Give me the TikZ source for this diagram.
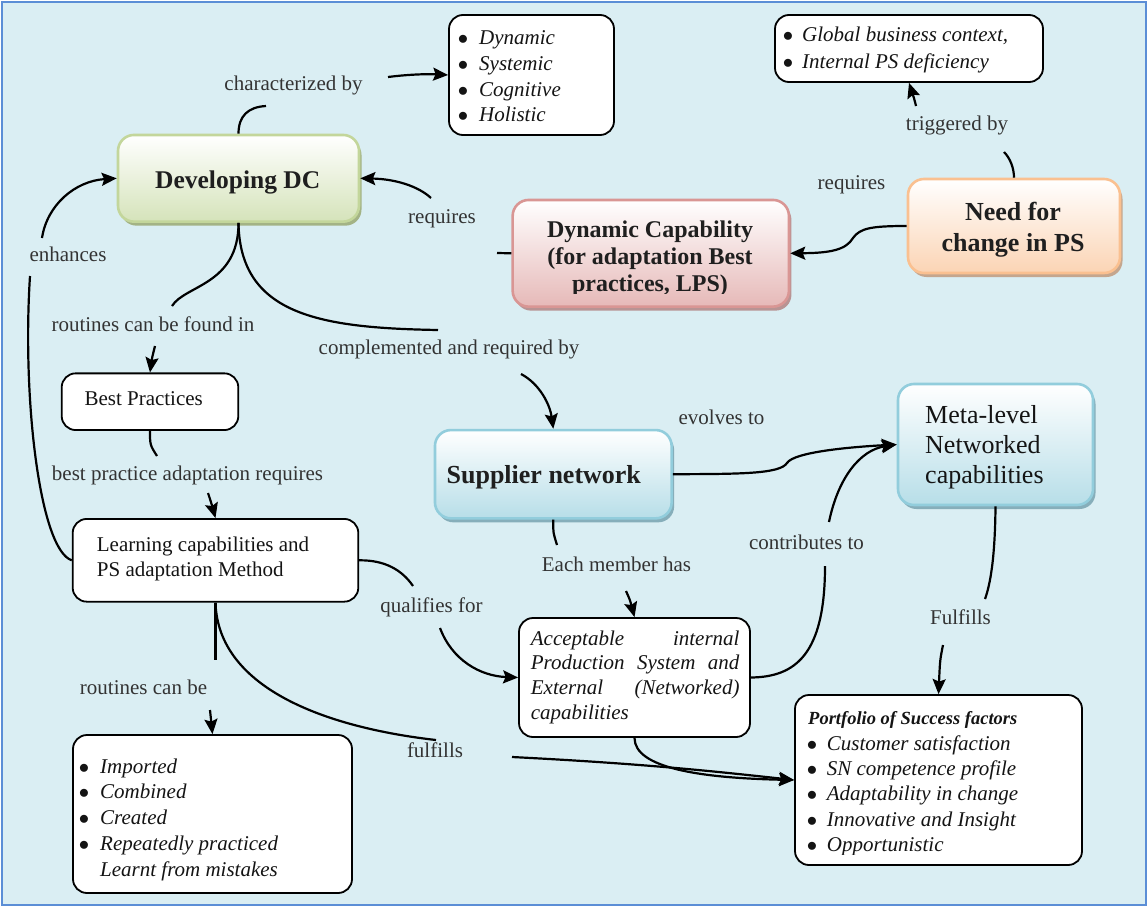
\documentclass[tikz,border=0pt]{standalone}
\usepackage{fontspec}
\setmainfont{Liberation Serif}
\usetikzlibrary{arrows.meta,shadows,calc}

\definecolor{bgblue}{HTML}{DAEEF3}
\definecolor{frameblue}{HTML}{5B8ED6}
\definecolor{grnfill}{HTML}{D5E3BA}
\definecolor{grnline}{HTML}{C3D69B}
\definecolor{grnshadow}{HTML}{A3B385}
\definecolor{pnkfill}{HTML}{E6B9B8}
\definecolor{pnkline}{HTML}{D99694}
\definecolor{pnkshadow}{HTML}{B89494}
\definecolor{orgfill}{HTML}{FBD4B4}
\definecolor{orgline}{HTML}{FAC090}
\definecolor{orgshadow}{HTML}{C4A68E}
\definecolor{blufill}{HTML}{B7DEE8}
\definecolor{bluline}{HTML}{92CDDC}
\definecolor{blushadow}{HTML}{86AEBA}

\newcommand\listbullet[1]{\makebox[#1][l]{$\bullet$}}

\begin{document}
\begin{tikzpicture}[x=1pt,y=-1pt,
  lbl/.style={font=\fontsize{21}{25}\selectfont, text=black!80, inner sep=0pt, anchor=base},
  conn/.style={line width=2.2pt, draw=black},
  arr/.style={conn, -{Stealth[length=15pt,width=13pt,inset=2.5pt]}},
  wbox/.style={draw=black, line width=1.8pt, fill=white, rounded corners=14pt, inner sep=0pt},
  cbox/.style={rounded corners=16pt, line width=2.6pt, inner sep=0pt},
  grnbox/.style={cbox, draw=grnline, top color=white, bottom color=grnfill,
    drop shadow={shadow xshift=2.5pt, shadow yshift=-4pt, fill=grnshadow, opacity=1}},
  pnkbox/.style={cbox, draw=pnkline, top color=white, bottom color=pnkfill,
    drop shadow={shadow xshift=2.5pt, shadow yshift=-4pt, fill=pnkshadow, opacity=1}},
  orgbox/.style={cbox, draw=orgline, top color=white, bottom color=orgfill,
    drop shadow={shadow xshift=2.5pt, shadow yshift=-4pt, fill=orgshadow, opacity=1}},
  blubox/.style={cbox, draw=bluline, top color=white, bottom color=blufill,
    drop shadow={shadow xshift=2.5pt, shadow yshift=-4pt, fill=blushadow, opacity=1}},
  boldtxt/.style={inner sep=0pt, text=black!88, font=\fontsize{26}{31}\selectfont\bfseries},
  plaintxt/.style={inner sep=0pt, text=black!92, font=\fontsize{21}{25}\selectfont},
  listtxt/.style={inner sep=0pt, text=black!92, anchor=base west}
]
\useasboundingbox (0,0) rectangle (1148,907);
\path[fill=bgblue, draw=frameblue, line width=2pt] (2,2) rectangle (1146,905);

% ---- concept boxes ----
\node[grnbox, minimum width=241pt, minimum height=86.7pt] (devdc) at (238.5,178.3) {};
\node[boldtxt, font=\fontsize{25.5}{30}\selectfont\bfseries, anchor=base] (devdctxt) at (237.7,188.3) {Developing DC};

\node[pnkbox, minimum width=276.3pt, minimum height=106.7pt] (dyncap) at (650.8,253.3) {};
\begin{scope}
  \clip (512,200) rectangle (790,293);
  \node[boldtxt, font=\fontsize{24}{27}\selectfont\bfseries, anchor=base] (dyncaptxt) at (650,237.7)
    {\begin{tabular}[t]{@{}c@{}}Dynamic Capability\\(for adaptation Best\\practices, LPS)\end{tabular}};
\end{scope}

\node[orgbox, minimum width=212pt, minimum height=94pt] (needps) at (1014,226) {};
\node[boldtxt, anchor=base] (needpstxt) at (1013,220)
  {\begin{tabular}[t]{@{}c@{}}Need for\\change in PS\end{tabular}};

\node[blubox, minimum width=236.7pt, minimum height=88.3pt] (supplier) at (553.3,474.2) {};
\node[boldtxt, anchor=base] (suppliertxt) at (543.8,483.3) {Supplier network};

\node[blubox, minimum width=195pt, minimum height=121pt] (meta) at (995.5,444.5) {};
\node[plaintxt, font=\fontsize{26}{30}\selectfont, anchor=base west] (metatxt) at (925,423.3)
  {\begin{tabular}[t]{@{}l@{}}Meta-level\\Networked\\capabilities\end{tabular}};

\node[wbox, minimum width=165pt, minimum height=120pt] (chars) at (531.5,75) {};
\node[listtxt, font=\fontsize{21}{25.6}\selectfont\itshape] (charstxt) at (457.75,45)
  {\begin{tabular}[t]{@{}l@{}}\listbullet{21.25pt}Dynamic\\\listbullet{21.25pt}Systemic\\
   \listbullet{21.25pt}Cognitive\\\listbullet{21.25pt}Holistic\end{tabular}};

\node[wbox, minimum width=268pt, minimum height=67pt] (triggers) at (909,48.5) {};
\node[listtxt, font=\fontsize{21}{26.6}\selectfont\itshape] (triggerstxt) at (782.75,41.7)
  {\begin{tabular}[t]{@{}l@{}}\listbullet{19.25pt}Global business context,\\
   \listbullet{19.25pt}Internal PS deficiency\end{tabular}};

\node[wbox, minimum width=176.6pt, minimum height=56.7pt] (bp) at (150,401.7) {};
\node[plaintxt, anchor=base west] (bptxt) at (84.3,405.7) {Best Practices};

\node[wbox, minimum width=285.6pt, minimum height=82.7pt] (learning) at (215.5,560.3) {};
\node[plaintxt, anchor=base west] (learningtxt) at (96.7,551.7)
  {\begin{tabular}[t]{@{}l@{}}Learning capabilities and\\PS adaptation Method\end{tabular}};

\node[wbox, minimum width=279pt, minimum height=158pt] (imported) at (212.5,814) {};
\node[listtxt, font=\fontsize{21}{25.8}\selectfont\itshape] (importedtxt) at (78.75,773)
  {\begin{tabular}[t]{@{}l@{}}\listbullet{21.25pt}Imported\\\listbullet{21.25pt}Combined\\
   \listbullet{21.25pt}Created\\\listbullet{21.25pt}Repeatedly practiced\\
   \makebox[21.25pt]{}Learnt from mistakes\end{tabular}};

\node[wbox, minimum width=231pt, minimum height=119pt] (acc) at (634.5,677.5) {};
\node[listtxt, font=\fontsize{21}{24.8}\selectfont\itshape] (acctxt) at (530.7,645)
  {\begin{tabular}[t]{@{}l@{}}\makebox[208.6pt][s]{Acceptable internal}\\
   \makebox[208.6pt][s]{Production System and}\\
   \makebox[208.6pt][s]{External (Networked)}\\capabilities\end{tabular}};

\node[wbox, minimum width=287pt, minimum height=170pt] (port) at (938.5,780) {};
\begin{scope}
  \clip (795,695) rectangle (1082,854.5);
  \node[listtxt, font=\fontsize{18.5}{22}\selectfont\bfseries\itshape] (porttitle) at (808,724.3)
    {Portfolio of Success factors};
  \node[listtxt, font=\fontsize{21}{25.4}\selectfont\itshape] (porttxt) at (806.75,750)
    {\begin{tabular}[t]{@{}l@{}}\listbullet{19.95pt}Customer satisfaction\\
     \listbullet{19.95pt}SN competence profile\\\listbullet{19.95pt}Adaptability in change\\
     \listbullet{19.95pt}Innovative and Insight\\\listbullet{19.95pt}Opportunistic\end{tabular}};
\end{scope}

% ---- link labels ----
\node[lbl] (lchar)  at (293.5,90)  {characterized by};
\node[lbl] (lreqa)  at (442,223)   {requires};
\node[lbl] (lreqb)  at (851.5,189.3) {requires};
\node[lbl] (ltrig)  at (957,130)   {triggered by};
\node[lbl] (lenh)   at (68,261.5)  {enhances};
\node[lbl] (lfound) at (153,331.5) {routines can be found in};
\node[lbl] (lcompl) at (449,354.5) {complemented and required by};
\node[lbl] (lbpa)   at (187.5,480) {best practice adaptation requires};
\node[lbl] (levol)  at (721.5,424.5) {evolves to};
\node[lbl] (lcontr) at (806.5,549.5) {contributes to};
\node[lbl] (leach)  at (616.5,571.5) {Each member has};
\node[lbl] (lqual)  at (431.5,612.5) {qualifies for};
\node[lbl] (lFulf)  at (960.5,624.5) {Fulfills};
\node[lbl] (lrout)  at (143.5,694.5) {routines can be};
\node[lbl] (lfulf)  at (435,757.5) {fulfills};

% ---- free ends beside the labels ----
\coordinate (c1a) at (266,106);  \coordinate (c1b) at (388,77);
\coordinate (c2a) at (497,253);  \coordinate (c2b) at (431,198);
\coordinate (c4a) at (1004,152); \coordinate (c4b) at (916,106);
\coordinate (c5a) at (30,276);   \coordinate (c5b) at (42,238);
\coordinate (c6a) at (172,306);  \coordinate (c6b) at (155,346);
\coordinate (c7a) at (438,330);  \coordinate (c7b) at (521,374);
\coordinate (c8a) at (157,456);  \coordinate (c8b) at (208,493);
\coordinate (c9a) at (413,586);  \coordinate (c9b) at (440,628);
\coordinate (c10a) at (215.5,660); \coordinate (c10b) at (210,710);
\coordinate (c11a) at (436,740); \coordinate (c11b) at (512,757);
\coordinate (c12a) at (557,545); \coordinate (c12b) at (626,591);
\coordinate (c13a) at (825,566); \coordinate (c13b) at (829,522);
\coordinate (c15a) at (985,599); \coordinate (c15b) at (943,645);

% ---- connectors ----
% characterized by
\draw[conn] (devdc.north) .. controls (238.5,116) and (248,107) .. (c1a);
\draw[arr] (c1b) .. controls (412,74) and (430,74) .. (chars.west);
% requires (dynamic capability -> developing DC)
\draw[conn] (dyncap.west) -- (c2a);
\draw[arr] (c2b) .. controls (418,186) and (395,179) .. (devdc.east);
% requires (need for change -> dynamic capability)
\draw[arr] (needps.west) .. controls (872,226) and (860,228) .. (853,238)
  .. controls (846,250) and (830,253) .. (dyncap.east);
% triggered by
\draw[conn] (needps.north) .. controls (1014,168) and (1010,158) .. (c4a);
\draw[arr] (c4b) .. controls (914,98) .. (triggers.south);
% enhances
\draw[conn] (learning.west) .. controls (40,550) and (22,400) .. (c5a);
\draw[arr] (c5b) .. controls (47,205) and (75,181) .. (devdc.west);
% routines can be found in
\draw[conn] (devdc.south) .. controls (238.5,285) and (185,285) .. (c6a);
\draw[arr] (c6b) .. controls (152,358) .. (bp.north);
% complemented and required by
\draw[conn] (devdc.south) .. controls (240,315) and (320,328) .. (c7a);
\draw[arr] (c7b) .. controls (540,384) and (550,405) .. (supplier.north);
% best practice adaptation requires
\draw[conn] (bp.south) .. controls (150,445) .. (c8a);
\draw[arr] (c8b) .. controls (211,502) .. (learning.north);
% qualifies for
\draw[conn] (learning.east) .. controls (385,560) and (402,570) .. (c9a);
\draw[arr] (c9b) .. controls (452,660) and (480,676) .. (acc.west);
% routines can be
\draw[conn] (learning.south) -- (c10a);
\draw[arr] (c10b) -- (imported.north);
% fulfills
\draw[conn] (learning.south) .. controls (218,690) and (330,728) .. (c11a);
\draw[arr] (c11b) .. controls (650,764) and (720,772) .. (port.west);
\draw[arr] (acc.south) .. controls (634.5,768) and (700,778) .. (port.west);
% each member has
\draw[conn] (supplier.south) .. controls (553,532) .. (c12a);
\draw[arr] (c12b) .. controls (630,600) .. (acc.north);
% contributes to
\draw[conn] (acc.east) .. controls (795,677) and (825,655) .. (c13a);
\draw[arr] (c13b) .. controls (838,478) and (860,450) .. (meta.west);
% evolves to
\draw[arr] (supplier.east) .. controls (740,474) and (780,474) .. (787,463)
  .. controls (794,452) and (850,447) .. (meta.west);
% Fulfills
\draw[conn] (meta.south) .. controls (995,560) and (990,585) .. (c15a);
\draw[arr] (c15b) .. controls (940,660) .. (port.north);
\end{tikzpicture}
\end{document}
